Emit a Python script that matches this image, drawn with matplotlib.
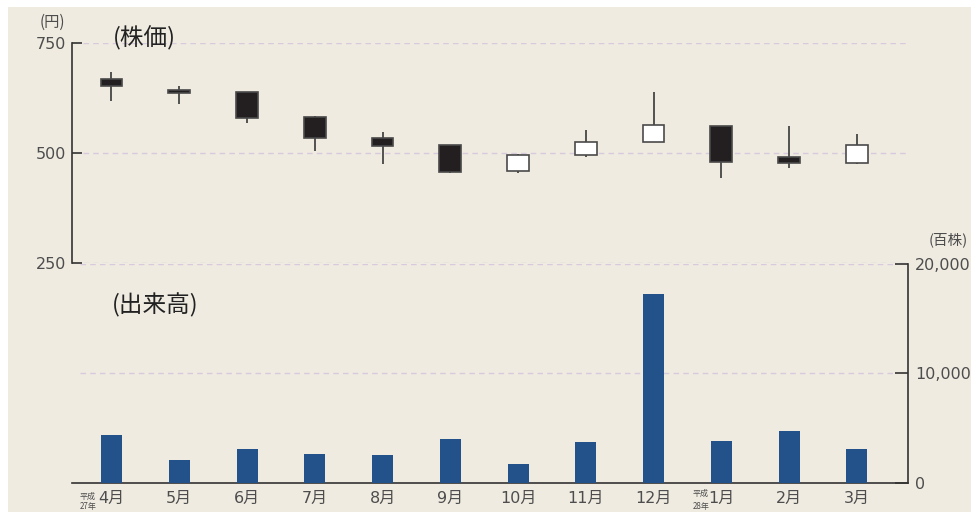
import numpy as np
import matplotlib
matplotlib.use('Agg')
import matplotlib.pyplot as plt
from matplotlib.patches import Rectangle
from matplotlib.transforms import blended_transform_factory

plt.rcParams['font.family'] = ['DejaVu Sans', 'Noto Sans CJK JP']
cjk = ['Noto Sans CJK JP', 'DejaVu Sans']

months = ['4月', '5月', '6月', '7月', '8月', '9月', '10月', '11月', '12月', '1月', '2月', '3月']
opens = [669, 644, 640, 582, 535, 519, 460, 497, 525, 562, 492, 478]
highs = [684, 653, 640, 585, 548, 519, 499, 553, 639, 562, 562, 544]
lows = [618, 612, 569, 506, 476, 456, 456, 491, 525, 444, 466, 475]
closes = [652, 636, 581, 535, 517, 457, 497, 525, 565, 481, 477, 519]
volume = [4360, 2070, 3080, 2620, 2530, 3990, 1710, 3720, 17230, 3810, 4720, 3080]

price_ticks = [250, 500, 750]
vol_ticks = [0, 10000, 20000]
vol_labels = ['0', '10,000', '20,000']

bg = '#efebe1'
ink = '#333333'
txt = '#4d4d4d'
grid_c = '#d9c9dd'
bar_c = '#23518a'

fig = plt.figure(figsize=(9.71, 5.12), dpi=100, facecolor='white')
fig.patches.append(Rectangle((8 / 971, 0), 1, 1 - 7 / 512, transform=fig.transFigure,
                             facecolor=bg, edgecolor='none', zorder=-5))

left = 72 / 971
width = 836 / 971
ax1 = fig.add_axes([left, 1 - 263.3 / 512, width, 220 / 512])
ax2 = fig.add_axes([left, 1 - 482.7 / 512, width, 219.2 / 512])
x = np.arange(len(months))

for ax in (ax1, ax2):
    ax.set_facecolor('none')
    ax.set_xlim(-0.583, 11.756)

# price candles
ax1.set_ylim(250, 750)
for s in ['top', 'right', 'bottom']:
    ax1.spines[s].set_visible(False)
ax1.spines['left'].set_color(ink)
ax1.spines['left'].set_linewidth(1.2)
ax1.set_xticks([])
ax1.set_yticks(price_ticks)
ax1.tick_params(axis='y', direction='in', length=7.5, width=1.2, color=ink,
                labelsize=11.5, labelcolor=txt, pad=4)
for v in price_ticks:
    ax1.axhline(v, xmin=0.013, xmax=1.0, color=grid_c, lw=1, ls=(0, (4, 3)), zorder=1)

o = np.array(opens)
c = np.array(closes)
up = c >= o
ax1.vlines(x, lows, highs, color='#454545', lw=1.3, zorder=2)
ax1.bar(x, np.abs(c - o), bottom=np.minimum(o, c), width=0.32,
        color=np.where(up, 'white', '#231f20'), edgecolor='#4a4a4a', linewidth=1.2, zorder=3)

fig.text(52 / 971, 1 - 22 / 512, '(円)', fontsize=11, color=txt, ha='center', va='center', family=cjk)
fig.text(113 / 971, 1 - 38 / 512, '(株価)', fontsize=17, color='#222222', ha='left', va='center', family=cjk)
fig.text(112 / 971, 1 - 305 / 512, '(出来高)', fontsize=17, color='#222222', ha='left', va='center', family=cjk)
fig.text(929 / 971, 1 - 240 / 512, '(百株)', fontsize=10.5, color=txt, ha='left', va='center', family=cjk)

# volume bars
ax2.set_ylim(0, 20000)
for s in ['top', 'left']:
    ax2.spines[s].set_visible(False)
for s in ['bottom', 'right']:
    ax2.spines[s].set_color(ink)
    ax2.spines[s].set_linewidth(1.2)
ax2.yaxis.tick_right()
ax2.set_yticks(vol_ticks)
ax2.set_yticklabels(vol_labels)
ax2.tick_params(axis='y', direction='in', length=9.5, width=1.2, color=ink,
                labelsize=11.5, labelcolor=txt, pad=5)
ax2.set_xticks(x)
ax2.set_xticklabels(months)
ax2.tick_params(axis='x', length=0, labelsize=11.5, labelcolor=txt, pad=6)
for v in vol_ticks[1:]:
    ax2.axhline(v, xmin=0.01, xmax=0.984, color=grid_c, lw=1, ls=(0, (4, 3)), zorder=1)
ax2.bar(x, volume, width=0.31, color=bar_c, zorder=3)

tr = blended_transform_factory(ax2.transData, fig.transFigure)
for xi, yr, s in [(-0.35, 496, '平成'), (-0.35, 507, '27年'), (8.7, 493, '平成'), (8.7, 507, '28年')]:
    ax2.text(xi, 1 - yr / 512, s, transform=tr, fontsize=5.8, color=txt,
             ha='center', va='center', family=cjk)

fig.savefig('out.png', dpi=100, facecolor='white')
